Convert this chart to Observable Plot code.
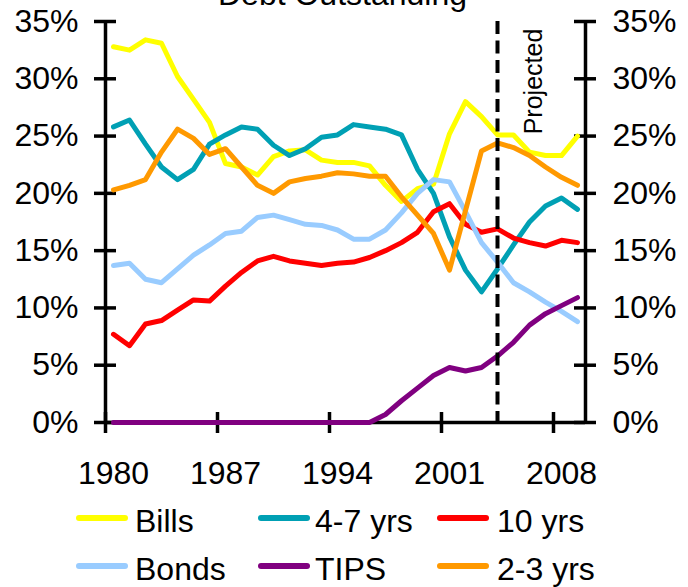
<!DOCTYPE html>
<html>
<head>
<meta charset="utf-8">
<script src="https://cdn.jsdelivr.net/npm/d3@7"></script>
<script src="https://cdn.jsdelivr.net/npm/@observablehq/plot@0.6"></script>
<style>
  body { margin: 0; background: #fff; }
  #wrap { position: relative; width: 688px; height: 587px; overflow: hidden; background: #fff;
          font-family: "Liberation Sans", Arial, sans-serif; color: #000; }
  #chart { position: absolute; left: 0; top: 0; }
  #title { position: absolute; left: 0; width: 685px; top: -22px; text-align: center;
           font-size: 32px; line-height: 32px; white-space: nowrap; }
  .sw { position: absolute; height: 6px; width: 52px; border-radius: 3px; }
  .lt { position: absolute; font-size: 32px; line-height: 32px; white-space: nowrap; }
</style>
</head>
<body>
<div id="wrap">
  <div id="chart"></div>
  <div id="title">Debt Outstanding</div>
  <div id="legend"></div>
</div>
<script>
// ---- data (share of debt outstanding, %) ----
const years = [1980,1981,1982,1983,1984,1985,1986,1987,1988,1989,1990,1991,1992,1993,1994,
               1995,1996,1997,1998,1999,2000,2001,2002,2003,2004,2005,2006,2007,2008,2009];
const bills      = [32.8,32.5,33.4,33.1,30.2,28.2,26.2,22.6,22.3,21.6,23.2,23.7,23.8,22.9,22.7,
                    22.7,22.4,20.7,19.3,20.4,20.8,25.2,28.0,26.7,25.1,25.1,23.6,23.3,23.3,25.0];
const fourToSeven= [25.8,26.4,24.3,22.3,21.2,22.1,24.3,25.1,25.8,25.6,24.2,23.3,23.9,24.9,25.1,
                    26.0,25.8,25.6,25.1,22.1,20.0,16.2,13.3,11.4,13.4,15.5,17.5,18.9,19.6,18.6];
const tenYrs     = [7.7,6.7,8.6,8.9,9.8,10.7,10.6,11.9,13.1,14.1,14.5,14.1,13.9,13.7,13.9,
                    14.0,14.4,15.0,15.7,16.6,18.4,19.1,17.3,16.6,16.9,16.1,15.7,15.4,15.9,15.7];
const bonds      = [13.7,13.9,12.5,12.2,13.4,14.6,15.5,16.5,16.7,17.9,18.1,17.7,17.3,17.2,16.8,
                    16.0,16.0,16.8,18.3,20.0,21.2,21.0,18.4,15.7,14.0,12.2,11.4,10.5,9.7,8.8];
const tips       = [0,0,0,0,0,0,0,0,0,0,0,0,0,0,0,
                    0,0,0.7,1.9,3.0,4.1,4.8,4.5,4.8,5.8,7.0,8.5,9.5,10.2,10.9];
const twoToThree = [20.3,20.7,21.2,23.6,25.6,24.8,23.4,23.9,22.3,20.7,20.0,21.0,21.3,21.5,21.8,
                    21.7,21.5,21.5,19.7,18.1,16.5,13.3,18.5,23.7,24.4,24.0,23.3,22.3,21.4,20.7];

const seriesNames  = ["Bills", "4-7 yrs", "10 yrs", "Bonds", "TIPS", "2-3 yrs"];
const seriesValues = [bills, fourToSeven, tenYrs, bonds, tips, twoToThree];
const seriesColors = ["#FFFF00", "#00A0B4", "#FF0000", "#99CCFF", "#800080", "#FF9900"];

const yTicks = [0, 5, 10, 15, 20, 25, 30, 35];
const xLabelYears = [1980, 1987, 1994, 2001, 2008];
const projectedYear = 2004;
const projectedLabel = "Projected";

// ---- build table ----
const rows = [];
seriesNames.forEach((name, s) => {
  years.forEach((yr, i) => rows.push({series: name, year: yr, value: seriesValues[s][i]}));
});

const xDomain = [years[0] - 0.5, years[years.length - 1] + 0.5];
const tickBounds = xLabelYears.map(d => d - 0.5);
const yMin = yTicks[0], yMax = yTicks[yTicks.length - 1];
const AX = 3.5;

const marks = [
  // axis lines
  Plot.ruleX(xDomain, {y1: yMin, y2: yMax, strokeWidth: AX, stroke: "black"}),
  Plot.ruleY([yMin], {x1: xDomain[0], x2: xDomain[1], strokeWidth: AX, stroke: "black"}),
  // crossing y ticks (left and right)
  Plot.ruleY(yTicks, {x1: xDomain[0], x2: xDomain[0], insetLeft: -11, insetRight: -11, strokeWidth: AX, stroke: "black"}),
  Plot.ruleY(yTicks, {x1: xDomain[1], x2: xDomain[1], insetLeft: -11, insetRight: -11, strokeWidth: AX, stroke: "black"}),
  // crossing x ticks
  Plot.ruleX(tickBounds, {y1: yMin, y2: yMin, insetTop: -10, insetBottom: -11, strokeWidth: AX, stroke: "black"}),
  // tick labels
  Plot.text(yTicks, {x: xDomain[0], y: d => d, text: d => d + "%", textAnchor: "end", dx: -27, fontSize: 32}),
  Plot.text(yTicks, {x: xDomain[1], y: d => d, text: d => d + "%", textAnchor: "start", dx: 27, fontSize: 32}),
  Plot.text(xLabelYears, {x: d => d, y: yMin, text: d => String(d), dy: 51, fontSize: 32}),
  // projected label
  Plot.text([projectedLabel], {x: () => projectedYear, frameAnchor: "top", text: d => d,
             rotate: -90, dx: 27, dy: 60, fontSize: 25})
];

seriesNames.forEach((name, s) => {
  marks.push(Plot.line(rows.filter(r => r.series === name), {
    x: "year", y: "value", stroke: seriesColors[s], strokeWidth: 5,
    strokeLinejoin: "round", strokeLinecap: "round"
  }));
});

// projection line (dashes start at the top)
marks.push(Plot.ruleX([projectedYear], {y1: yMax, y2: yMin, stroke: "black",
            strokeWidth: 4, strokeDasharray: "13,6.5"}));

const chart = Plot.plot({
  width: 688,
  height: 500,
  marginLeft: 105,
  marginRight: 103,
  marginTop: 21,
  marginBottom: 78,
  x: {domain: xDomain, axis: null},
  y: {domain: [yMin, yMax], axis: null},
  style: {fontFamily: "'Liberation Sans', Arial, sans-serif", fontSize: "32px", background: "white", overflow: "visible", color: "black"},
  marks
});
document.getElementById("chart").appendChild(chart);

// ---- legend ----
const legend = document.getElementById("legend");
const colSwatch = [76, 258, 437];
const colText = [135, 315, 497];
const rowLine = [518, 566];
const rowBase = [532, 580];
seriesNames.forEach((name, s) => {
  const c = s % 3, r = Math.floor(s / 3);
  const sw = document.createElement("div");
  sw.className = "sw";
  sw.style.left = colSwatch[c] + "px";
  sw.style.top = (rowLine[r] - 3) + "px";
  sw.style.background = seriesColors[s];
  legend.appendChild(sw);
  const t = document.createElement("div");
  t.className = "lt";
  t.style.left = colText[c] + "px";
  t.style.top = (rowBase[r] - 27) + "px";
  t.textContent = name;
  legend.appendChild(t);
});
</script>
</body>
</html>
